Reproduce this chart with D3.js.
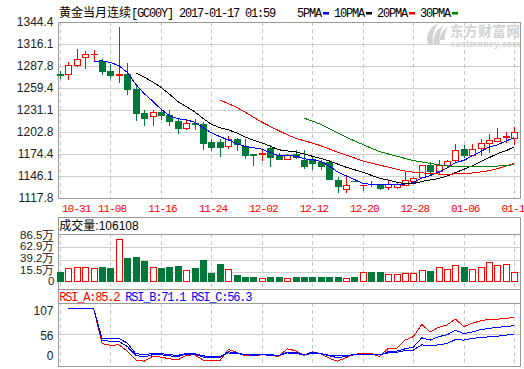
<!DOCTYPE html>
<html><head><meta charset="utf-8">
<script src="https://cdn.jsdelivr.net/npm/d3@7"></script>
<style>
html,body{margin:0;padding:0;background:#fff;overflow:hidden}
svg{display:block}
.mono{font-family:"Liberation Mono","DejaVu Sans Mono",monospace;font-size:12px;letter-spacing:-1.2px}
.xl{font-family:"Liberation Mono","DejaVu Sans Mono",monospace;font-size:11px;letter-spacing:-0.9px}
.cjk{font-family:"Noto Sans CJK SC",sans-serif;font-size:12px}
.sans{font-family:"Liberation Sans",Arial,sans-serif;font-size:12px}
</style></head><body>
<svg id="c" width="524" height="369"></svg>
<script>
// ---------------- data ----------------
const dates = ["10-31","11-01","11-02","11-03","11-04","11-07","11-08","11-09","11-10","11-11",
"11-14","11-15","11-16","11-17","11-18","11-21","11-22","11-23","11-24","11-25",
"11-28","11-29","11-30","12-01","12-02","12-05","12-06","12-07","12-08","12-09",
"12-12","12-13","12-14","12-15","12-16","12-19","12-20","12-21","12-22","12-23",
"12-26","12-27","12-28","12-29","12-30","01-03","01-04","01-05","01-06","01-09",
"01-10","01-11","01-12","01-13","01-16"];
const opens = [1277.2,1277.9,1289.5,1298.9,1303.2,1294.2,1280.9,1276.8,1277.0,1257.7,
1227.2,1222.9,1228.5,1224.2,1216.5,1207.9,1213.9,1212.6,1189.9,1189.9,
1184.7,1194.2,1184.7,1173.9,1174.7,1182.2,1173.6,1168.4,1174.9,1167.1,
1167.6,1164.1,1164.1,1141.4,1128.9,1139.9,1134.0,1135.6,1135.0,1132.0,
1132.0,1135.0,1139.7,1144.8,1159.8,1152.5,1160.7,1166.3,1180.4,1173.6,
1182.6,1189.0,1191.2,1195.9,1195.5];
const highs = [1280.9,1292.9,1309.2,1307.1,1307.9,1296.3,1289.9,1338.0,1291.6,1264.1,
1230.7,1230.7,1232.0,1230.7,1219.1,1217.8,1219.9,1215.6,1193.3,1194.2,
1197.6,1195.0,1193.3,1174.9,1179.1,1185.6,1176.2,1174.9,1179.2,1179.2,
1170.6,1166.3,1166.3,1144.8,1147.0,1140.1,1134.5,1139.7,1136.2,1139.2,
1138.4,1152.5,1144.8,1160.7,1164.1,1166.3,1167.1,1187.7,1186.5,1187.7,
1193.3,1200.6,1207.9,1202.8,1209.2];
const lows = [1272.3,1271.4,1287.7,1285.6,1295.0,1277.9,1272.3,1267.1,1252.1,1218.6,
1211.3,1211.3,1219.9,1211.3,1201.9,1206.2,1206.2,1181.3,1179.1,1171.4,
1182.2,1180.0,1169.3,1160.7,1167.1,1158.6,1167.6,1167.6,1169.3,1156.4,
1154.7,1154.7,1142.7,1125.5,1125.5,1139.2,1127.7,1132.8,1129.8,1129.8,
1131.1,1135.0,1139.2,1144.4,1149.1,1149.1,1159.8,1165.4,1170.6,1172.7,
1172.7,1177.0,1191.2,1189.9,1187.7];
const closes = [1276.8,1288.6,1296.3,1302.8,1303.6,1281.3,1276.6,1277.2,1258.6,1227.7,
1221.2,1228.5,1225.1,1216.5,1207.9,1214.4,1213.3,1189.0,1183.9,1183.9,
1193.3,1187.7,1173.6,1173.4,1175.3,1170.6,1168.4,1173.6,1170.6,1159.0,
1163.3,1159.0,1142.7,1132.8,1134.1,1139.5,1134.3,1135.2,1131.1,1136.2,
1136.2,1140.5,1144.0,1159.8,1152.5,1159.8,1165.0,1180.0,1173.6,1181.3,
1188.6,1192.9,1195.0,1198.0,1202.8];
// volume in 万
const volumes = [16.7,23.2,25.1,25.1,23.2,25.7,24.3,78.3,42.2,44.7,
37.1,25.7,23.8,25.7,27.6,19.4,23.8,39.0,14.8,31.4,
21.3,10.5,6.7,6.7,5.3,6.7,6.7,5.3,6.7,6.7,
6.7,6.7,6.7,6.7,5.3,6.7,16.7,16.2,16.2,11.8,
11.8,13.7,13.7,19.4,18.1,25.1,21.3,29.5,25.7,21.3,
25.1,34.6,28.9,30.8,15.6];
const rsiA = [null,100,100,100,100,40,37,38,27,12,10,18,17,14,12,20,21,12,11,11,
30,25,19,19,21,20,18,31,28,20,26,23,15,10,16,22,23,23,18,32,
32,46,52,73,60,68,72,82,69,75,79,81.6,82,83,85.2];
const rsiB = [null,100,100,100,100,46,44,44,35,20,17,21,21,19,18,22,22,17,16,16,
26,24,21,20,21,20,20,25,25,21,25,23,19,16,18,21,22,22,21,26,
27,31,34,50,46,52,55,63,57,60,64,66,68,69,71.1];
const rsiC = [null,100,100,100,100,49,49,49,41,23,21,23,23,21,20,23,23,19,18,18,
24,23,21,21,21,21,20,24,23,21,23,23,20,19,20,21,22,22,21,24,
25,28,29,38,36,38,40,47,46,49,50.5,51.6,52.7,54.5,56.3];
const priceTicks = [1117.8,1146.1,1174.4,1202.8,1231.1,1259.4,1287.8,1316.1,1344.4];
const volTicks = [0,15.5,39.2,62.9,86.5];
const rsiTicks = [0,56,107];
const maPeriods = [5,10,20,30];
const maNames = ["5PMA","10PMA","20PMA","30PMA"];
const titleName = "黄金当月连续";
const titleCode = "[GC00Y] 2017-01-17 01:59";
const volName = "成交量";
const volLast = "106108";
const rsiNames = ["RSI_A","RSI_B","RSI_C"];
const rsiLast = [85.2,71.1,56.3];
const labelEvery = 6;

// ---------------- style / layout ----------------
const RED = "#ff0000", GREEN = "#00783a", BLUE = "#0000ff";
const maColors = [BLUE, "#000000", RED, "#008000"];
const rsiColors = [RED, BLUE, BLUE];
const BORDER = "#9a9a9a", GRID = "#cfcfcf", DASH = "#c8c8c8";
const L = 58, R = 521;
const P = {top:22, bottom:198};
const V = {box:217, top:234, bottom:289, y0:280.5, y1:235};
const S = {box:289, top:303, bottom:366};

const svg = d3.select("#c");
const x = d3.scalePoint().domain(dates).range([60, 514.3]);
const y = d3.scaleLinear().domain([priceTicks[0], priceTicks[priceTicks.length-1]]).range([P.bottom, P.top]);
const yv = d3.scaleLinear().domain([0, volTicks[volTicks.length-1]]).range([V.y0, V.y1]);
const yr = d3.scaleLinear().domain([0, rsiTicks[rsiTicks.length-1]]).range([367, 304.5]);
const px = d => Math.round(x(d));
const labelDates = dates.filter((d,i)=> i % labelEvery === 0);

const grid = svg.append("g").attr("shape-rendering","crispEdges");
priceTicks.forEach(v=>{
  grid.append("line").attr("x1",L).attr("x2",R).attr("y1",Math.round(y(v))+0.5).attr("y2",Math.round(y(v))+0.5).attr("stroke",GRID);
});
volTicks.slice(1,-1).forEach(v=>{
  grid.append("line").attr("x1",L).attr("x2",R).attr("y1",Math.round(yv(v))+0.5).attr("y2",Math.round(yv(v))+0.5).attr("stroke",GRID);
});
[56].forEach(v=>{
  grid.append("line").attr("x1",L).attr("x2",R).attr("y1",Math.round(yr(v))+0.5).attr("y2",Math.round(yr(v))+0.5).attr("stroke",GRID);
});
[[P.top,P.bottom],[V.top,V.bottom],[S.top,S.bottom]].forEach(([t,b])=>{
  labelDates.forEach(d=>{
    grid.append("line").attr("x1",px(d)+0.5).attr("x2",px(d)+0.5).attr("y1",t).attr("y2",b)
      .attr("stroke",DASH).attr("stroke-dasharray","4,3");
  });
});

// watermark
const wm = svg.append("g").attr("fill","#d2d2d2");
wm.append("path").attr("d","M428,44 C425,36 429,28 438,23 C434,29 432,36 433,44 Z");
wm.append("path").attr("d","M434,44 C432,37 436,30 444,25 C440,31 439,37 440,44 Z");
wm.append("path").attr("d","M440,40 C440,34 443,30 448,27 C445,32 444,36 445,40 Z");
const wt = wm.append("text").attr("font-weight","bold");
wt.append("tspan").attr("x",450).attr("y",35.8).attr("font-family","Noto Sans CJK SC").attr("font-size",13.5)
  .attr("letter-spacing","0.6px").text("东方财富网");
wt.append("tspan").attr("x",450.5).attr("y",47).attr("font-family","Liberation Sans").attr("font-size",8.5)
  .attr("letter-spacing","0.5px").text("eastmoney.com");

// borders
const bd = svg.append("g").attr("shape-rendering","crispEdges").attr("fill","none").attr("stroke",BORDER);
bd.append("rect").attr("x",L+0.5).attr("y",P.top+0.5).attr("width",R-L-1).attr("height",P.bottom-P.top);
bd.append("rect").attr("x",L+0.5).attr("y",V.box+0.5).attr("width",R-L-1).attr("height",V.bottom-V.box);
bd.append("line").attr("x1",L).attr("x2",R).attr("y1",V.top+0.5).attr("y2",V.top+0.5);
bd.append("rect").attr("x",L+0.5).attr("y",S.box+0.5).attr("width",R-L-1).attr("height",S.bottom-S.box);
bd.append("line").attr("x1",L).attr("x2",R).attr("y1",S.top+0.5).attr("y2",S.top+0.5);

// candles
const cg = svg.append("g").attr("shape-rendering","crispEdges");
dates.forEach((d,i)=>{
  const o=opens[i], c=closes[i], up = c>=o, col = up?RED:GREEN, cx = px(d);
  const yT = Math.round(y(Math.max(o,c))), yB = Math.round(y(Math.min(o,c)));
  const yH = Math.round(y(highs[i])), yL = Math.round(y(lows[i]));
  cg.append("rect").attr("x",cx).attr("y",yH).attr("width",1).attr("height",Math.max(1,yL-yH+1)).attr("fill",col);
  if (yB - yT < 1) {
    cg.append("rect").attr("x",cx-3).attr("y",yT).attr("width",7).attr("height",1).attr("fill",col);
  } else if (up) {
    cg.append("rect").attr("x",cx-2.5).attr("y",yT+0.5).attr("width",6).attr("height",yB-yT)
      .attr("fill","#fff").attr("stroke",RED);
  } else {
    cg.append("rect").attr("x",cx-3).attr("y",yT).attr("width",7).attr("height",yB-yT+1).attr("fill",GREEN);
  }
});

// moving averages
const mg = svg.append("g").attr("fill","none").attr("shape-rendering","crispEdges");
maPeriods.forEach((n,k)=>{
  const ma = closes.map((c,i)=> i < n-1 ? null : d3.mean(closes.slice(i-n+1,i+1)));
  const line = d3.line().defined(v=>v!=null).x((v,i)=>x(dates[i])).y(v=>y(v));
  mg.append("path").attr("d",line(ma)).attr("stroke",maColors[k]).attr("stroke-width",1);
});

// volume bars
const vg = svg.append("g").attr("shape-rendering","crispEdges");
const vBase = Math.round(yv(0));
dates.forEach((d,i)=>{
  const up = closes[i]>=opens[i], cx = px(d), top = Math.round(yv(volumes[i]));
  if (up) {
    vg.append("rect").attr("x",cx-2.5).attr("y",top+0.5).attr("width",6).attr("height",vBase-top)
      .attr("fill","#fff").attr("stroke",RED);
  } else {
    vg.append("rect").attr("x",cx-3).attr("y",top).attr("width",7).attr("height",vBase-top+1).attr("fill",GREEN);
  }
});

// RSI lines
const rg = svg.append("g").attr("fill","none").attr("shape-rendering","crispEdges");
[rsiA,rsiB,rsiC].forEach((arr,k)=>{
  const line = d3.line().defined(v=>v!=null).x((v,i)=>x(dates[i])).y(v=>yr(v));
  rg.append("path").attr("d",line(arr)).attr("stroke",rsiColors[k]).attr("stroke-width",1);
});

// y axes
function styleAxis(g, fs){ g.select(".domain").remove(); g.selectAll("line").remove();
  g.selectAll("text").attr("fill","#222").style("font-size",(fs||12)+"px").style("font-family","'Liberation Sans',Arial,sans-serif"); }
svg.append("g").attr("transform","translate(56.5,0)")
  .call(d3.axisLeft(y).tickValues(priceTicks).tickSize(0).tickPadding(3).tickFormat(d3.format(".1f")))
  .call(g=>styleAxis(g,12));
const va = svg.append("g").attr("transform","translate(57.5,0)")
  .call(d3.axisLeft(yv).tickValues(volTicks).tickSize(0).tickPadding(3).tickFormat(v=> v===0 ? "0" : d3.format(".1f")(v)+"万"))
  .call(g=>styleAxis(g,11.5));
const vLabTop = V.y1, vLabBot = V.y0 + 1.3;
const vLabPos = d3.scaleLinear().domain([0, volTicks.length-1]).range([vLabBot, vLabTop]);
va.selectAll(".tick").attr("transform",(v)=>`translate(0,${vLabPos(volTicks.indexOf(v))})`);
const ra = svg.append("g").attr("transform","translate(56.5,0)")
  .call(d3.axisLeft(yr).tickValues(rsiTicks).tickSize(0).tickPadding(3).tickFormat(d3.format("d")))
  .call(g=>styleAxis(g,12));
ra.selectAll(".tick").attr("transform",v=>`translate(0,${Math.min(Math.max(yr(v)+2,S.top+8.5),S.bottom-9.5)})`);

// x labels
const xg = svg.append("g");
labelDates.forEach(d=>{
  const t = xg.append("text").attr("class","xl").attr("fill",RED).attr("y",212).attr("text-anchor","middle").text(d);
  const w = t.node().getComputedTextLength();
  t.attr("x", Math.max(x(d)+1.5, L+4+w/2));
});

// title
const tt = svg.append("text").attr("x",59).attr("y",16.5).attr("fill","#000");
tt.append("tspan").attr("class","cjk").text(titleName);
tt.append("tspan").attr("class","mono").text(titleCode);

// legend
let lx = 297;
maNames.forEach((n,i)=>{
  svg.append("text").attr("class","mono").attr("x",lx).attr("y",16.5).attr("fill","#000").text(n);
  const w = n.length*6;
  svg.append("rect").attr("x",Math.round(lx+w+2)).attr("y",12).attr("width",6).attr("height",2.5).attr("fill",maColors[i]);
  lx += w + 13;
});

// volume header
const vh = svg.append("text").attr("x",59.3).attr("y",230).attr("fill","#000");
vh.append("tspan").attr("class","cjk").text(volName);
vh.append("tspan").attr("class","sans").text(":"+volLast);

// RSI header
const rh = svg.append("text").attr("x",59.3).attr("y",300.5).attr("class","mono");
rsiNames.forEach((n,i)=>{
  rh.append("tspan").attr("fill",rsiColors[i]).text((i?" ":"")+n+":"+rsiLast[i].toFixed(1));
});
</script>
</body></html>
